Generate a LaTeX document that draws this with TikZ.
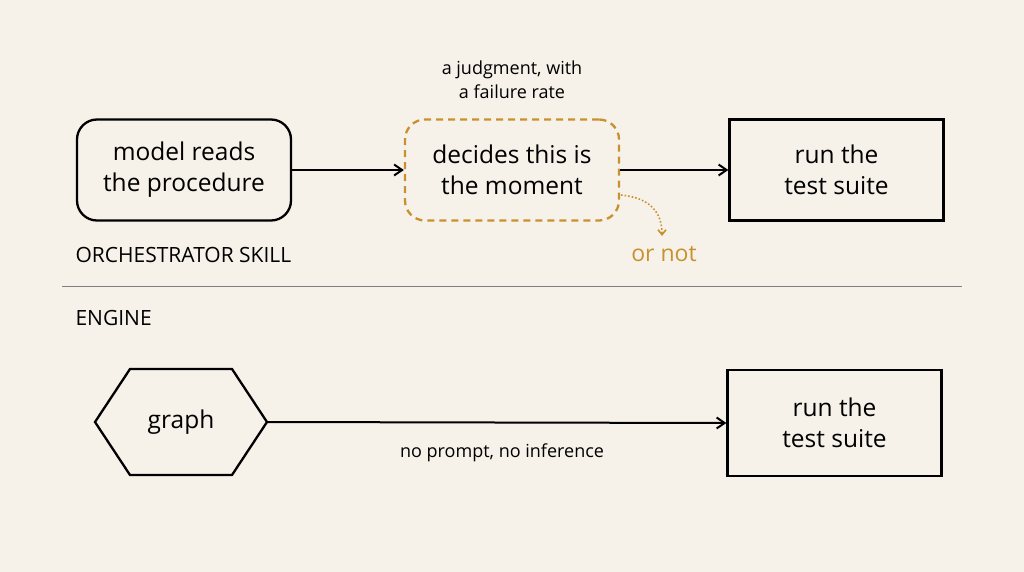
\documentclass[tikz,border=0pt]{standalone}
\usepackage{fontspec}
\setmainfont{Open Sans}
\usetikzlibrary{arrows.meta}
\definecolor{bg}{HTML}{F6F2EA}
\definecolor{org}{HTML}{C8912E}
\begin{document}
\begin{tikzpicture}[x=1pt,y=-1pt,
  box/.style={draw,line width=2.3pt,minimum width=214pt,minimum height=101pt,align=center,font=\fontsize{24.5}{31}\selectfont,inner sep=0},
  arr/.style={-{Straight Barb[length=8pt,width=11pt]},line width=2pt},
  small/.style={font=\fontsize{18}{24}\selectfont,align=center},
  lab/.style={font=\fontsize{21}{24}\selectfont,anchor=west}]
\fill[bg] (0,0) rectangle (1024,572);
\useasboundingbox (0,0) rectangle (1024,572);
\node[box,rounded corners=20pt] (a) at (184,170) {model reads\\the procedure};
\node[box,rounded corners=20pt,draw=org,dashed,dash pattern=on 7pt off 5pt] (b) at (512,170) {decides this is\\the moment};
\node[box] (c) at (836.5,170) {run the\\test suite};
\draw[arr] (a.east) -- (b.west);
\draw[arr] (b.east) -- (c.west);
\node[small] (j) at (512,80) {a judgment, with\\a failure rate};
\coordinate (d0) at (621,195);
\coordinate (d1) at (662,236);
\draw[org,line width=1.6pt,dotted,-{Straight Barb[length=5pt,width=8pt]}] (d0) .. controls (650,198) and (662,212) .. (d1);
\node[font=\fontsize{23}{26}\selectfont,text=org] (ornot) at (664,254) {or not};
\node[lab] (orch) at (72,255) {ORCHESTRATOR SKILL};
\coordinate (l0) at (62,286); \coordinate (l1) at (962,286);
\draw[gray,line width=0.8pt] (l0) -- (l1);
\node[lab] (eng) at (72,318) {ENGINE};
\draw[line width=2.3pt] (95,422) -- (130,369) -- (232,369) -- (267,422) -- (232,475) -- (130,475) -- cycle;
\node[font=\fontsize{24.5}{31}\selectfont] (g) at (181,422) {graph};
\coordinate (ge) at (267,422);
\node[box,minimum height=106pt] (d) at (834.5,423) {run the\\test suite};
\draw[arr] (ge) -- (d.west);
\node[small] (np) at (502,453) {no prompt, no inference};
\end{tikzpicture}
\end{document}
